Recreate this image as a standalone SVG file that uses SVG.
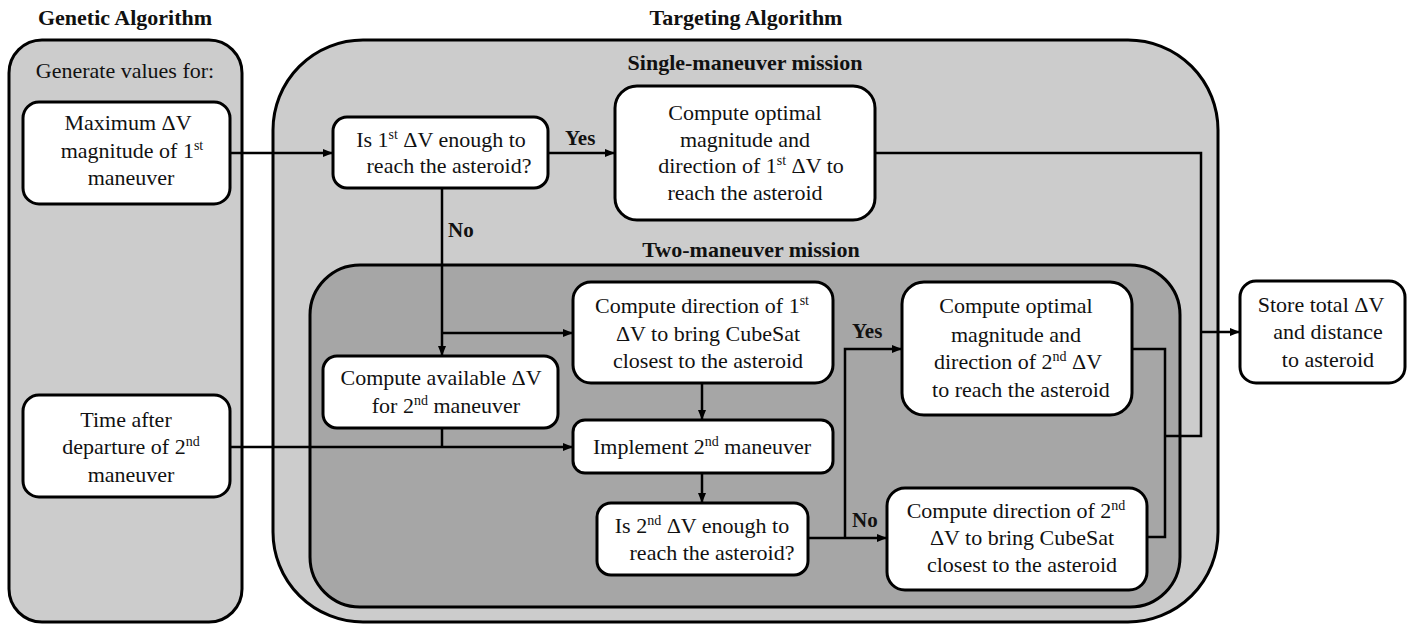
<svg xmlns="http://www.w3.org/2000/svg" width="1415" height="624" viewBox="0 0 1415 624">
<style>
text{font-family:"Liberation Serif","Times New Roman",serif;font-size:22px;fill:#111;text-anchor:middle}
.b{font-weight:bold}
.lbl{font-weight:bold;font-size:21px;text-anchor:start}
.sup{font-size:14px}
.cont{stroke:#000;stroke-width:3}
.node{fill:#fff;stroke:#000;stroke-width:3}
.con{fill:none;stroke:#000;stroke-width:2.5}
</style>
<defs>
<marker id="ah" markerUnits="userSpaceOnUse" markerWidth="10" markerHeight="8" refX="10" refY="4" orient="auto">
<path d="M0,0 L10,4 L0,8 z" fill="#000"/>
</marker>
</defs>
<g id="containers">
<text class="b" x="125" y="25">Genetic Algorithm</text>
<text class="b" x="746" y="25">Targeting Algorithm</text>
<rect class="cont" x="9" y="40" width="233" height="582" rx="33" fill="#cccccc"/>
<rect class="cont" x="273" y="40" width="945" height="582" rx="90" fill="#cccccc"/>
<text x="125" y="78">Generate values for:</text>
<text class="b" x="745" y="70">Single-maneuver mission</text>
<text class="b" x="751" y="257">Two-maneuver mission</text>
<rect class="cont" x="310" y="265" width="870" height="342" rx="50" fill="#a6a6a6"/>
</g>
<g id="connectors">
<path class="con" d="M230,153 H333" marker-end="url(#ah)"/>
<path class="con" d="M548,153 H615" marker-end="url(#ah)"/>
<path class="con" d="M875,153 H1201 V436 H1165"/>
<path class="con" d="M1201,332 H1240" marker-end="url(#ah)"/>
<path class="con" d="M1132,349 H1165 V537 H1147"/>
<path class="con" d="M442,188 V356" marker-end="url(#ah)"/>
<path class="con" d="M442,333 H573" marker-end="url(#ah)"/>
<path class="con" d="M442,428 V447"/>
<path class="con" d="M230,447 H573" marker-end="url(#ah)"/>
<path class="con" d="M702,383 V420" marker-end="url(#ah)"/>
<path class="con" d="M702,473 V503" marker-end="url(#ah)"/>
<path class="con" d="M808,538 H887" marker-end="url(#ah)"/>
<path class="con" d="M845,538 V349 H902" marker-end="url(#ah)"/>
<text class="lbl" x="565" y="145">Yes</text>
<text class="lbl" x="448" y="237">No</text>
<text class="lbl" x="852" y="338">Yes</text>
<text class="lbl" x="852" y="527">No</text>
</g>
<g id="max-dv">
<rect class="node" x="23" y="102" width="207" height="102" rx="16"/>
<text x="128" y="130">Maximum ΔV</text>
<text x="132" y="158">magnitude of 1<tspan class="sup" dy="-8">st</tspan></text>
<text x="131" y="185">maneuver</text>
</g>
<g id="time-after">
<rect class="node" x="23" y="395" width="207" height="102" rx="16"/>
<text x="126" y="427">Time after</text>
<text x="131" y="454">departure of 2<tspan class="sup" dy="-8">nd</tspan></text>
<text x="131" y="482">maneuver</text>
</g>
<g id="is-first-enough">
<rect class="node" x="333" y="117" width="215" height="71" rx="14"/>
<text x="441" y="147">Is 1<tspan class="sup" dy="-8">st</tspan><tspan dy="8"> ΔV enough to</tspan></text>
<text x="449" y="173">reach the asteroid?</text>
</g>
<g id="optimal-first">
<rect class="node" x="615" y="86" width="260" height="134" rx="22"/>
<text x="745" y="120">Compute optimal</text>
<text x="745" y="147">magnitude and</text>
<text x="751" y="173">direction of 1<tspan class="sup" dy="-8">st</tspan><tspan dy="8"> ΔV to</tspan></text>
<text x="745" y="200">reach the asteroid</text>
</g>
<g id="available-dv">
<rect class="node" x="323" y="356" width="235" height="72" rx="14"/>
<text x="441" y="385">Compute available ΔV</text>
<text x="446" y="413">for 2<tspan class="sup" dy="-8">nd</tspan><tspan dy="8">  maneuver</tspan></text>
</g>
<g id="direction-first">
<rect class="node" x="573" y="282" width="260" height="101" rx="18"/>
<text x="702" y="313">Compute direction of 1<tspan class="sup" dy="-8">st</tspan></text>
<text x="708" y="341">ΔV to bring CubeSat</text>
<text x="708" y="368">closest to the asteroid</text>
</g>
<g id="implement-second">
<rect class="node" x="573" y="420" width="260" height="53" rx="12"/>
<text x="702" y="454">Implement 2<tspan class="sup" dy="-8">nd</tspan><tspan dy="8"> maneuver</tspan></text>
</g>
<g id="is-second-enough">
<rect class="node" x="597" y="503" width="211" height="72" rx="14"/>
<text x="702" y="533">Is 2<tspan class="sup" dy="-8">nd</tspan><tspan dy="8"> ΔV enough to</tspan></text>
<text x="712" y="560">reach the asteroid?</text>
</g>
<g id="optimal-second">
<rect class="node" x="902" y="282" width="230" height="133" rx="22"/>
<text x="1016" y="313">Compute optimal</text>
<text x="1016" y="342">magnitude and</text>
<text x="1018" y="369">direction of 2<tspan class="sup" dy="-8">nd</tspan><tspan dy="8"> ΔV</tspan></text>
<text x="1021" y="397">to reach the asteroid</text>
</g>
<g id="direction-second">
<rect class="node" x="887" y="488" width="260" height="102" rx="18"/>
<text x="1016" y="518">Compute direction of 2<tspan class="sup" dy="-8">nd</tspan></text>
<text x="1022" y="545">ΔV to bring CubeSat</text>
<text x="1022" y="572">closest to the asteroid</text>
</g>
<g id="store">
<rect class="node" x="1240" y="281" width="165" height="102" rx="16"/>
<text x="1321" y="312">Store total ΔV</text>
<text x="1328" y="339">and distance</text>
<text x="1328" y="367">to asteroid</text>
</g>
</svg>
